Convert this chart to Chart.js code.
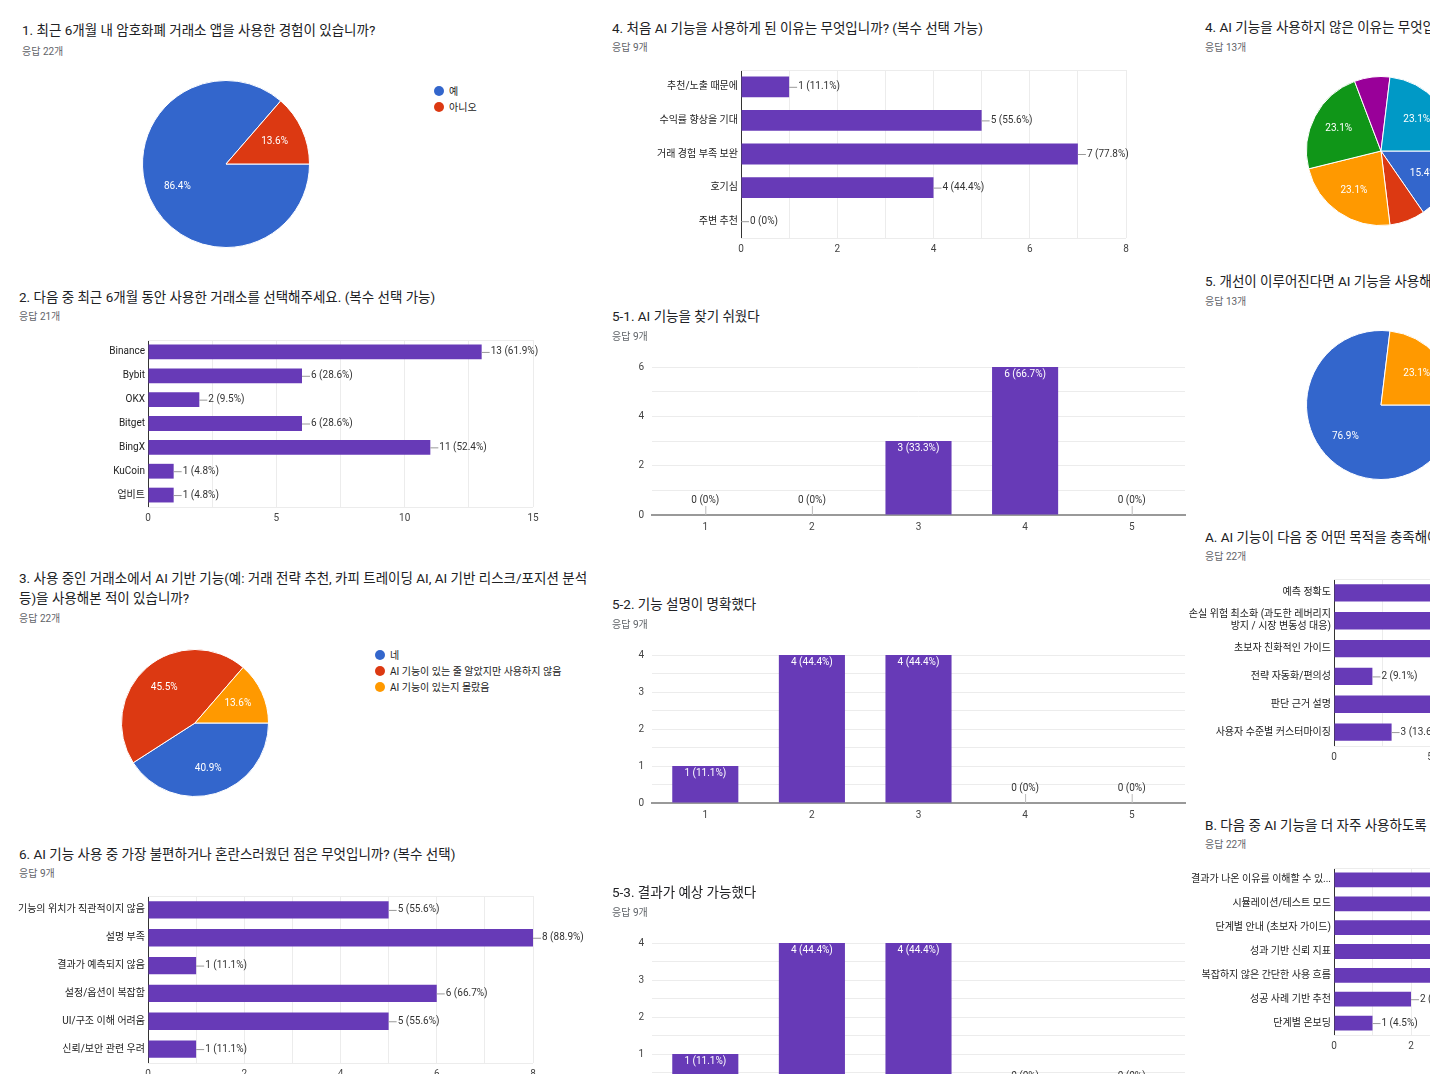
<!DOCTYPE html>
<html><head><meta charset="utf-8">
<script src="https://cdn.jsdelivr.net/npm/chart.js@4.4.0/dist/chart.umd.min.js"></script>
<style>
html,body{margin:0;padding:0;width:1430px;height:1074px;overflow:hidden;background:#fff;}
body{position:relative;font-family:Roboto,"Noto Sans CJK KR",sans-serif;color:#202124;}
.t{position:absolute;font-size:13.5px;white-space:nowrap;line-height:20px;}
.s{position:absolute;font-size:10px;color:#5f6368;white-space:nowrap;}
.lg{position:absolute;font-size:10px;color:#222;white-space:nowrap;}
.lg i{display:inline-block;width:10px;height:10px;border-radius:50%;margin-right:5px;vertical-align:-1px;}
canvas{position:absolute;}
</style></head><body>
<script>
// ---- data ----
const q1Labels = ["예", "아니오"];
const q1Values = [19, 3];
const q2Labels = ["Binance", "Bybit", "OKX", "Bitget", "BingX", "KuCoin", "업비트"];
const q2Values = [13, 6, 2, 6, 11, 1, 1];
const q3Labels = ["네", "AI 기능이 있는 줄 알았지만 사용하지 않음", "AI 기능이 있는지 몰랐음"];
const q3Values = [9, 10, 3];
const q4Labels = ["추천/노출 때문에", "수익률 향상을 기대", "거래 경험 부족 보완", "호기심", "주변 추천"];
const q4Values = [1, 5, 7, 4, 0];
const q6Labels = ["기능의 위치가 직관적이지 않음", "설명 부족", "결과가 예측되지 않음", "설정/옵션이 복잡함", "UI/구조 이해 어려움", "신뢰/보안 관련 우려"];
const q6Values = [5, 8, 1, 6, 5, 1];
const scaleLabels = ["1", "2", "3", "4", "5"];
const q51Values = [0, 0, 3, 6, 0];
const q52Values = [1, 4, 4, 0, 0];
const q53Values = [1, 4, 4, 0, 0];
const r4Values = [2, 1, 3, 3, 1, 3];
const r5Values = [10, 3];
const aLabels = ["예측 정확도", ["손실 위험 최소화 (과도한 레버리지", "방지 / 시장 변동성 대응)"], "초보자 친화적인 가이드", "전략 자동화/편의성", "판단 근거 설명", "사용자 수준별 커스터마이징"];
const aValues = [12, 11, 9, 2, 8, 3];
const bLabels = ["결과가 나온 이유를 이해할 수 있...", "시뮬레이션/테스트 모드", "단계별 안내 (초보자 가이드)", "성과 기반 신뢰 지표", "복잡하지 않은 간단한 사용 흐름", "성공 사례 기반 추천", "단계별 온보딩"];
const bValues = [10, 9, 8, 7, 6, 2, 1];

const PIE = ["#3366cc", "#dc3912", "#ff9900", "#109618", "#990099", "#0099c6"];
const BAR = "#673ab7";
const FONT = 'Roboto, "Noto Sans CJK KR", sans-serif';

function txt(cls, x, y, s) {
  const d = document.createElement("div");
  d.className = cls; d.style.left = x + "px"; d.style.top = y + "px"; d.innerHTML = s;
  document.body.appendChild(d);
}
function cv(x, y, w, h) {
  const c = document.createElement("canvas");
  c.style.left = x + "px"; c.style.top = y + "px";
  c.style.width = w + "px"; c.style.height = h + "px";
  c.width = w; c.height = h;
  document.body.appendChild(c);
  return c;
}
function pct(v, n) { return v === 0 ? "0%" : (v / n * 100).toFixed(1) + "%"; }

function pie(cx, cy, r, values, colors) {
  const c = cv(cx - r - 2, cy - r - 2, 2 * r + 4, 2 * r + 4);
  const total = values.reduce((a, b) => a + b, 0);
  new Chart(c, {
    type: "pie",
    data: { labels: values.map((_, i) => String(i)), datasets: [{ data: values, backgroundColor: colors || PIE.slice(0, values.length), borderColor: "#fff", borderWidth: 1 }] },
    options: {
      responsive: false, animation: false, rotation: 90,
      layout: { padding: 1 },
      plugins: { legend: { display: false }, tooltip: { enabled: false } }
    },
    plugins: [{
      id: "pieLabels",
      afterDatasetsDraw(chart) {
        const ctx = chart.ctx;
        ctx.save();
        ctx.font = "10px " + FONT; ctx.fillStyle = "#fff";
        ctx.textAlign = "center"; ctx.textBaseline = "middle";
        chart.getDatasetMeta(0).data.forEach((arc, i) => {
          const p = values[i] / total;
          if (p < 0.1) return;
          const a = (arc.startAngle + arc.endAngle) / 2;
          const rr = arc.outerRadius * 0.64;
          ctx.fillText((p * 100).toFixed(1) + "%", arc.x + Math.cos(a) * rr, arc.y + Math.sin(a) * rr);
        });
        ctx.restore();
      }
    }]
  });
}

// horizontal bar: plot box x0..x1, y0..y1
function hbar(x0, x1, y0, y1, labels, values, max, step, labelStep, n, axisW) {
  const xAxisH = 22, rightPad = 80, lift = 8;
  const c = cv(x0 - axisW, y0 - lift, axisW + (x1 - x0) + rightPad, (y1 - y0) + xAxisH + lift);
  new Chart(c, {
    type: "bar",
    data: { labels, datasets: [{ data: values, backgroundColor: BAR, barPercentage: 0.62, categoryPercentage: 1 }] },
    options: {
      indexAxis: "y", responsive: false, animation: false,
      layout: { padding: { top: 0, right: rightPad, left: 0, bottom: 0 } },
      plugins: { legend: { display: false }, tooltip: { enabled: false } },
      scales: {
        x: {
          min: 0, max, ticks: { stepSize: step, color: "#444", font: { size: 10, family: FONT }, padding: 5,
            callback: v => (Math.abs(v / labelStep - Math.round(v / labelStep)) < 1e-6 ? v : "") },
          grid: { color: "#ececec", drawTicks: false }, border: { display: false },
          afterFit: s => { s.height = xAxisH; }
        },
        y: {
          ticks: { color: "#222", font: { size: 10, family: FONT }, padding: 3, autoSkip: false },
          grid: { display: false, drawTicks: false }, border: { color: "#333", width: 1 },
          afterFit: s => { s.width = axisW; }
        }
      }
    },
    plugins: [{
      id: "hLabels",
      afterDatasetsDraw(chart) {
        const ctx = chart.ctx, area = chart.chartArea;
        ctx.save();
        ctx.strokeStyle = "#ececec"; ctx.beginPath();
        ctx.moveTo(area.left, area.top + 0.5); ctx.lineTo(area.right, area.top + 0.5);
        ctx.moveTo(area.left, area.bottom + 0.5); ctx.lineTo(area.right, area.bottom + 0.5); ctx.stroke();
        ctx.font = "10px " + FONT; ctx.fillStyle = "#333"; ctx.textBaseline = "middle";
        chart.getDatasetMeta(0).data.forEach((b, i) => {
          const v = values[i];
          ctx.strokeStyle = "#999"; ctx.beginPath();
          ctx.moveTo(b.x, b.y + 0.5); ctx.lineTo(b.x + 8, b.y + 0.5); ctx.stroke();
          ctx.fillText(v + " (" + pct(v, n) + ")", b.x + 9, b.y);
        });
        ctx.restore();
      }
    }]
  });
}

// vertical bar: plot box x0..x1, yTop..yBot
function vbar(x0, x1, yTop, yBot, values, max, n) {
  const axisW = 20, xAxisH = 20, lift = 14;
  const c = cv(x0 - axisW, yTop - lift, axisW + (x1 - x0) + 2, (yBot - yTop) + xAxisH + lift);
  new Chart(c, {
    type: "bar",
    data: { labels: scaleLabels, datasets: [{ data: values, backgroundColor: BAR, barPercentage: 0.62, categoryPercentage: 1 }] },
    options: {
      responsive: false, animation: false,
      layout: { padding: { top: 0, right: 2, left: 0, bottom: 0 } },
      plugins: { legend: { display: false }, tooltip: { enabled: false } },
      scales: {
        y: {
          min: 0, max, ticks: { stepSize: max > 4 ? 1 : 0.5, color: "#444", font: { size: 10, family: FONT }, padding: 8,
            callback: v => (max > 4 ? (v % 2 === 0 ? v : "") : (Number.isInteger(v) ? v : "")) },
          grid: { color: "#ececec", drawTicks: false }, border: { display: false },
          afterFit: s => { s.width = axisW; }
        },
        x: {
          ticks: { color: "#444", font: { size: 10, family: FONT }, padding: 6 },
          grid: { display: false, drawTicks: false }, border: { color: "#999", width: 2 },
          afterFit: s => { s.height = xAxisH; }
        }
      }
    },
    plugins: [{
      id: "vLabels",
      afterDatasetsDraw(chart) {
        const ctx = chart.ctx;
        ctx.save();
        ctx.font = "10px " + FONT; ctx.textAlign = "center"; ctx.textBaseline = "middle";
        chart.getDatasetMeta(0).data.forEach((b, i) => {
          const v = values[i], t = v + " (" + pct(v, n) + ")";
          if (v > 0) { ctx.fillStyle = "#fff"; ctx.fillText(t, b.x, b.y + 7); }
          else {
            ctx.strokeStyle = "#bbb"; ctx.beginPath();
            ctx.moveTo(b.x + 0.5, b.base); ctx.lineTo(b.x + 0.5, b.base - 9); ctx.stroke();
            ctx.fillStyle = "#333"; ctx.fillText(t, b.x, b.base - 15);
          }
        });
        ctx.restore();
      }
    }]
  });
}

// ---- left column ----
txt("t", 22, 20, "1. 최근 6개월 내 암호화폐 거래소 앱을 사용한 경험이 있습니까?");
txt("s", 22, 43, "응답 22개");
pie(226, 164, 83, q1Values);
txt("lg", 434, 83, '<i style="background:#3366cc"></i>' + q1Labels[0]);
txt("lg", 434, 99, '<i style="background:#dc3912"></i>' + q1Labels[1]);

txt("t", 19, 287, "2. 다음 중 최근 6개월 동안 사용한 거래소를 선택해주세요. (복수 선택 가능)");
txt("s", 19, 308, "응답 21개");
hbar(148, 533, 339, 507, q2Labels, q2Values, 15, 2.5, 5, 21, 110);

txt("t", 19, 568, "3. 사용 중인 거래소에서 AI 기반 기능(예: 거래 전략 추천, 카피 트레이딩 AI, AI 기반 리스크/포지션 분석<br>등)을 사용해본 적이 있습니까?");
txt("s", 19, 610, "응답 22개");
pie(195, 723, 73, q3Values);
q3Labels.forEach((l, i) => txt("lg", 375, 647 + i * 16, '<i style="background:' + PIE[i] + '"></i>' + l));

txt("t", 19, 844, "6. AI 기능 사용 중 가장 불편하거나 혼란스러웠던 점은 무엇입니까? (복수 선택)");
txt("s", 19, 865, "응답 9개");
hbar(148, 533, 895, 1063, q6Labels, q6Values, 8, 1, 2, 9, 148);

// ---- middle column ----
txt("t", 612, 18, "4. 처음 AI 기능을 사용하게 된 이유는 무엇입니까? (복수 선택 가능)");
txt("s", 612, 39, "응답 9개");
hbar(741, 1126, 69, 238, q4Labels, q4Values, 8, 1, 2, 9, 110);

txt("t", 612, 306, "5-1. AI 기능을 찾기 쉬웠다");
txt("s", 612, 328, "응답 9개");
vbar(652, 1185, 367, 515, q51Values, 6, 9);

txt("t", 612, 594, "5-2. 기능 설명이 명확했다");
txt("s", 612, 616, "응답 9개");
vbar(652, 1185, 655, 803, q52Values, 4, 9);

txt("t", 612, 882, "5-3. 결과가 예상 가능했다");
txt("s", 612, 904, "응답 9개");
vbar(652, 1185, 943, 1091, q53Values, 4, 9);

// ---- right column (clipped) ----
txt("t", 1205, 17, "4. AI 기능을 사용하지 않은 이유는 무엇입니까? (복수 선택 가능)");
txt("s", 1205, 39, "응답 13개");
pie(1381, 151, 74, r4Values);

txt("t", 1205, 271, "5. 개선이 이루어진다면 AI 기능을 사용해볼 의향이 있습니까?");
txt("s", 1205, 293, "응답 13개");
pie(1381, 405, 74, r5Values, [PIE[0], PIE[2]]);

txt("t", 1205, 527, "A. AI 기능이 다음 중 어떤 목적을 충족해야 한다고 생각하십니까? (복수 선택 가능)");
txt("s", 1205, 548, "응답 22개");
hbar(1334, 1334 + 19.2 * 15, 578, 746, aLabels, aValues, 15, 2.5, 5, 22, 150);

txt("t", 1205, 815, "B. 다음 중 AI 기능을 더 자주 사용하도록 만드는 요소는 무엇입니까? (복수 선택 가능)");
txt("s", 1205, 836, "응답 22개");
hbar(1334, 1334 + 38.5 * 12, 867, 1035, bLabels, bValues, 12, 1, 2, 22, 150);
</script>
</body></html>
